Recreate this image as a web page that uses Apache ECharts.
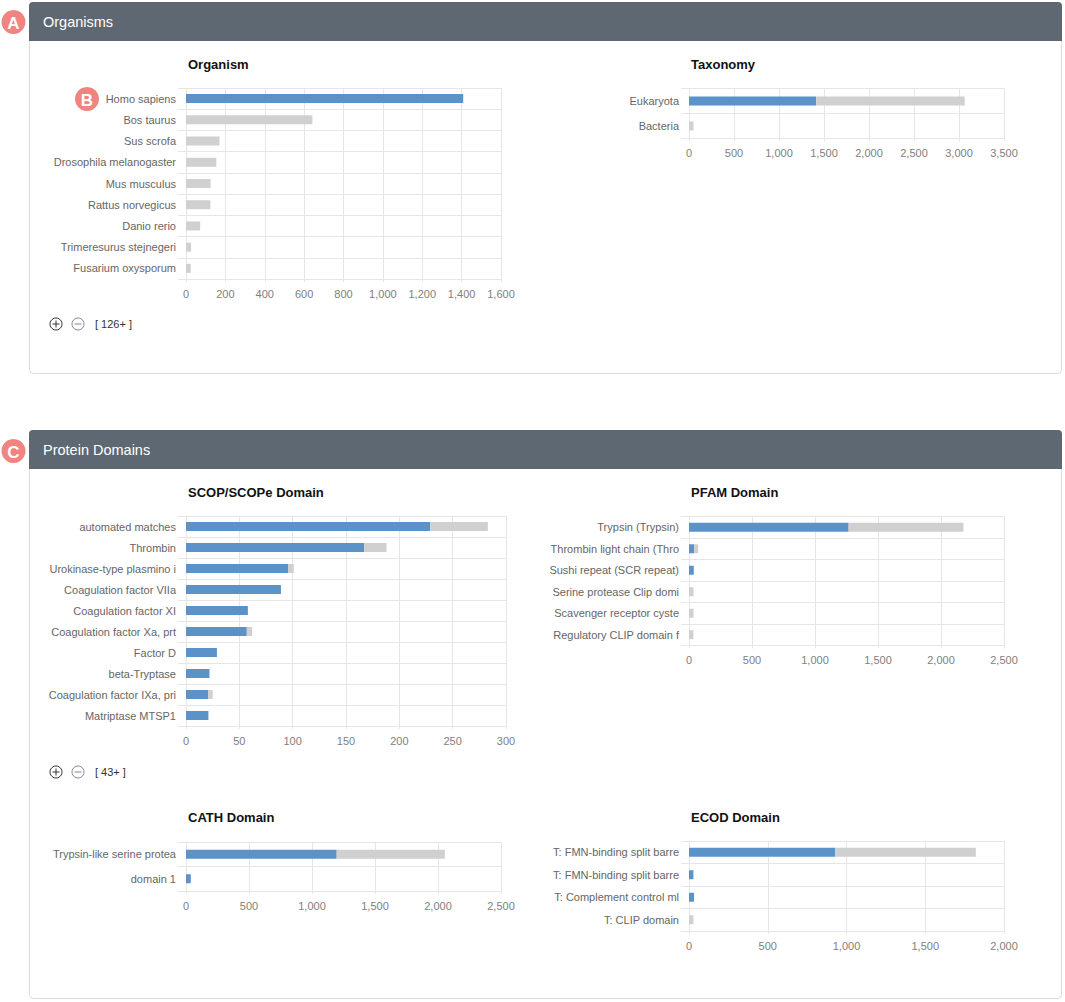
<!DOCTYPE html>
<html>
<head>
<meta charset="utf-8">
<title>Organisms / Protein Domains</title>
<script src="https://cdn.jsdelivr.net/npm/echarts@6/dist/echarts.min.js"></script>
<style>
  html, body { margin: 0; padding: 0; background: #fff; }
  #main { width: 1065px; height: 1002px; }
</style>
</head>
<body>
<div id="main"></div>
<script>
// ---- data ----
const organismNames = ['Homo sapiens', 'Bos taurus', 'Sus scrofa', 'Drosophila melanogaster', 'Mus musculus',
  'Rattus norvegicus', 'Danio rerio', 'Trimeresurus stejnegeri', 'Fusarium oxysporum']
const organismHits = [1408, 0, 0, 0, 0, 0, 0, 0, 0]
const organismTotals = [1408, 642, 170, 154, 125, 124, 72, 26, 24]

const taxonomyNames = ['Eukaryota', 'Bacteria']
const taxonomyHits = [1413, 0]
const taxonomyTotals = [3063, 50]

const scopNames = ['automated matches', 'Thrombin', 'Urokinase-type plasmino i', 'Coagulation factor VIIa',
  'Coagulation factor XI', 'Coagulation factor Xa, prt', 'Factor D', 'beta-Tryptase',
  'Coagulation factor IXa, pri', 'Matriptase MTSP1']
const scopHits = [229, 167, 96, 89, 58, 57, 29, 22, 21, 21]
const scopTotals = [283, 188, 101, 89, 58, 62, 29, 22, 25, 21]

const pfamNames = ['Trypsin (Trypsin)', 'Thrombin light chain (Thro', 'Sushi repeat (SCR repeat)',
  'Serine protease Clip domi', 'Scavenger receptor cyste', 'Regulatory CLIP domain f']
const pfamHits = [1267, 40, 38, 0, 0, 0]
const pfamTotals = [2178, 73, 38, 36, 36, 35]

const cathNames = ['Trypsin-like serine protea', 'domain 1']
const cathHits = [1196, 38]
const cathTotals = [2054, 38]

const ecodNames = ['T: FMN-binding split barre', 'T: FMN-binding split barre', 'T: Complement control ml', 'T: CLIP domain']
const ecodHits = [929, 28, 32, 0]
const ecodTotals = [1821, 28, 32, 28]

// axis ranges [max, interval]
const organismAxis = [1600, 200]
const taxonomyAxis = [3500, 500]
const scopAxis = [300, 50]
const pfamAxis = [2500, 500]
const cathAxis = [2500, 500]
const ecodAxis = [2000, 500]

// ---- layout ----
const charts = [
  { title: 'Organism', names: organismNames, hits: organismHits, totals: organismTotals, axis: organismAxis,
    left: 186, top: 88, width: 315, height: 191, titleY: 66 },
  { title: 'Taxonomy', names: taxonomyNames, hits: taxonomyHits, totals: taxonomyTotals, axis: taxonomyAxis,
    left: 689, top: 88.5, width: 315, height: 50, titleY: 66 },
  { title: 'SCOP/SCOPe Domain', names: scopNames, hits: scopHits, totals: scopTotals, axis: scopAxis,
    left: 186, top: 516, width: 320, height: 210, titleY: 494 },
  { title: 'PFAM Domain', names: pfamNames, hits: pfamHits, totals: pfamTotals, axis: pfamAxis,
    left: 689, top: 516.5, width: 315, height: 129, titleY: 494 },
  { title: 'CATH Domain', names: cathNames, hits: cathHits, totals: cathTotals, axis: cathAxis,
    left: 186, top: 842, width: 315, height: 49, titleY: 819 },
  { title: 'ECOD Domain', names: ecodNames, hits: ecodHits, totals: ecodTotals, axis: ecodAxis,
    left: 689, top: 841, width: 315, height: 90, titleY: 819 }
]

const font = '"Helvetica Neue", Helvetica, Arial, "Liberation Sans", sans-serif'
const blue = '#5b93c8'
const grey = '#d0d0d0'
const lineColor = '#e6e6e6'

function panel (x, y, w, h, label) {
  return {
    type: 'group',
    children: [
      { type: 'rect', shape: { x: x + 0.5, y: y + 0.5, width: w, height: h, r: 4 },
        style: { fill: 'none', stroke: '#dcdcdc', lineWidth: 1 } },
      { type: 'rect', shape: { x: x, y: y, width: w + 1, height: 39, r: [4, 4, 0, 0] },
        style: { fill: '#5e6872' } },
      { type: 'text', style: { text: label, x: x + 14, y: y + 20, fill: '#fff',
        font: '14.5px ' + font, textVerticalAlign: 'middle' } }
    ]
  }
}

function marker (cx, cy, letter) {
  return {
    type: 'group',
    z: 100,
    children: [
      { type: 'circle', shape: { cx: cx, cy: cy, r: 12 }, style: { fill: '#ef8480' } },
      { type: 'text', style: { text: letter, x: cx, y: cy + 1, fill: '#fff',
        font: 'bold 17px ' + font, textAlign: 'center', textVerticalAlign: 'middle' } }
    ]
  }
}

function zoomCtl (cy, label) {
  return {
    type: 'group',
    children: [
      { type: 'circle', shape: { cx: 56, cy: cy, r: 6 }, style: { fill: 'none', stroke: '#333', lineWidth: 1 } },
      { type: 'line', shape: { x1: 52.5, y1: cy, x2: 59.5, y2: cy }, style: { stroke: '#333', lineWidth: 1 } },
      { type: 'line', shape: { x1: 56, y1: cy - 3.5, x2: 56, y2: cy + 3.5 }, style: { stroke: '#333', lineWidth: 1 } },
      { type: 'circle', shape: { cx: 78, cy: cy, r: 6 }, style: { fill: 'none', stroke: '#888', lineWidth: 1 } },
      { type: 'line', shape: { x1: 74.5, y1: cy, x2: 81.5, y2: cy }, style: { stroke: '#888', lineWidth: 1 } },
      { type: 'text', style: { text: label, x: 95, y: cy, fill: '#333', font: '11px ' + font,
        textVerticalAlign: 'middle' } }
    ]
  }
}

const series = []
charts.forEach((c, i) => {
  series.push({
    type: 'bar', xAxisIndex: i, yAxisIndex: i, stack: 'stack' + i, barWidth: 9,
    itemStyle: { color: blue }, data: c.hits, silent: true
  })
  series.push({
    type: 'bar', xAxisIndex: i, yAxisIndex: i, stack: 'stack' + i, barWidth: 9,
    itemStyle: { color: grey }, data: c.totals.map((t, k) => t - c.hits[k]), silent: true
  })
})

const chart = echarts.init(document.getElementById('main'), null, { renderer: 'svg' })
chart.setOption({
  animation: false,
  backgroundColor: '#fff',
  textStyle: { fontFamily: font },
  title: charts.map(c => ({
    text: c.title, left: c.left + 2, top: c.titleY - 8, padding: 0,
    textStyle: { fontSize: 13, fontWeight: 'bold', color: '#111', fontFamily: font }
  })),
  grid: charts.map(c => ({ left: c.left, top: c.top, width: c.width, height: c.height })),
  xAxis: charts.map((c, i) => ({
    type: 'value', gridIndex: i, min: 0, max: c.axis[0], interval: c.axis[1],
    axisLine: { show: true, lineStyle: { color: lineColor } },
    axisTick: { show: true, length: 3, lineStyle: { color: lineColor } },
    splitLine: { show: true, lineStyle: { color: lineColor } },
    axisLabel: { color: '#808080', fontSize: 11, margin: 9, formatter: v => v.toLocaleString('en-US') }
  })),
  yAxis: charts.map((c, i) => ({
    type: 'category', gridIndex: i, data: c.names, inverse: true,
    axisLine: { show: true, lineStyle: { color: lineColor } },
    axisTick: { show: true, length: 8, lineStyle: { color: lineColor } },
    splitLine: { show: true, lineStyle: { color: lineColor } },
    axisLabel: { color: '#666', fontSize: 11, margin: 10, interval: 0 }
  })),
  series: series,
  graphic: [
    panel(29, 2, 1032, 371, 'Organisms'),
    panel(29, 430, 1032, 568, 'Protein Domains'),
    zoomCtl(324, '[ 126+ ]'),
    zoomCtl(772, '[ 43+ ]'),
    marker(13.5, 22, 'A'),
    marker(87, 99, 'B'),
    marker(13.5, 451, 'C')
  ]
})
</script>
</body>
</html>
